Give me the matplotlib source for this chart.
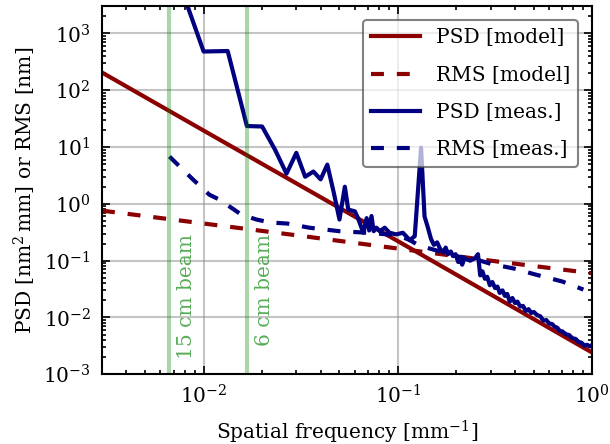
import matplotlib
matplotlib.use("Agg")
import matplotlib.pyplot as plt


# model curves (straight lines in log-log, read at a few frequencies)
f_model = [0.003, 0.01, 0.1, 1.0]
psd_model = [205, 19.5, 0.22, 0.0024]
f_rms_model = [0.003, 0.03, 0.3, 1.0]
rms_model = [0.76, 0.28, 0.10, 0.06]

f_meas = [0.00667, 0.0100, 0.0133, 0.0167, 0.0200, 0.0233, 0.0267, 0.0300,
          0.0333, 0.0367, 0.0400, 0.0433, 0.0467, 0.0500, 0.0533, 0.0555,
          0.0600, 0.0623, 0.0663, 0.0690, 0.0711, 0.0731, 0.0750, 0.0775,
          0.0806, 0.0855, 0.0905, 0.0980, 0.1060, 0.1150, 0.1220, 0.1315,
          0.1370, 0.1420, 0.1480, 0.1530, 0.1590, 0.1650, 0.1710, 0.1760,
          0.1810, 0.1870, 0.1920, 0.1980, 0.2040, 0.2100, 0.2140, 0.2200,
          0.2350, 0.2490, 0.2580, 0.2650, 0.2720, 0.2800, 0.2880, 0.2970,
          0.3060, 0.3160, 0.3250, 0.3340, 0.3450, 0.3550, 0.3650, 0.3760,
          0.3880, 0.4000, 0.4120, 0.4250, 0.4400, 0.4550, 0.4700, 0.4850,
          0.5000, 0.5200, 0.5400, 0.5600, 0.5800, 0.6000, 0.6200, 0.6400,
          0.6600, 0.6800, 0.7000, 0.7300, 0.7600, 0.7900, 0.8200, 0.8500,
          0.8800, 0.9100, 0.9400, 0.9700, 1.0000]
psd_meas = [24000, 480, 490, 23.4, 23, 9.0, 3.4, 7.9,
            3.0, 3.7, 2.7, 4.9, 1.6, 0.53, 2.0, 0.79,
            0.74, 0.56, 0.31, 0.56, 0.34, 0.61, 0.33, 0.38,
            0.33, 0.38, 0.31, 0.29, 0.31, 0.23, 0.27, 9.8,
            0.60, 0.40, 0.24, 0.19, 0.21, 0.16, 0.14, 0.17,
            0.13, 0.145, 0.12, 0.13, 0.095, 0.10, 0.085, 0.11,
            0.10, 0.11, 0.13, 0.055, 0.065, 0.048, 0.052, 0.037,
            0.042, 0.033, 0.035, 0.027, 0.030, 0.024, 0.026, 0.019,
            0.022, 0.018, 0.019, 0.0156, 0.016, 0.013, 0.014, 0.012,
            0.0125, 0.011, 0.0105, 0.0088, 0.009, 0.0078, 0.0077, 0.0069,
            0.0066, 0.0058, 0.0057, 0.0051, 0.0049, 0.0043, 0.0042, 0.0037,
            0.0036, 0.0032, 0.0033, 0.0031, 0.0033]

# measured RMS
f_rms_meas = [0.00667, 0.0088, 0.0107, 0.0121, 0.0156, 0.0187, 0.022, 0.027,
              0.035, 0.05, 0.07, 0.10, 0.115, 0.13, 0.14, 0.2, 0.265, 0.3,
              0.4, 0.5, 0.7, 0.9]
rms_meas = [6.8, 2.7, 1.45, 1.18, 0.65, 0.53, 0.47, 0.45,
            0.38, 0.33, 0.31, 0.28, 0.23, 0.18, 0.17, 0.12, 0.10, 0.088,
            0.072, 0.058, 0.043, 0.031]

# beam sizes [mm] -> marked at 1/size
beam_sizes = [150, 60]
beam_labels = ["15 cm beam", "6 cm beam"]


plt.rcParams['font.family'] = ['DejaVu Serif']
plt.rcParams['mathtext.fontset'] = 'dejavuserif'
matplotlib.rc('font', size=14.5)

fig = plt.figure(figsize=(6.1, 4.44), dpi=100)
fig.subplots_adjust(left=0.1672, right=0.971, bottom=0.157, top=0.9858)
ax = fig.add_subplot(1, 1, 1)

lw = 3
dash = (0, (3.1, 3.1))
ax.loglog(f_model, psd_model, color='#8b0000', lw=lw, label='PSD [model]')
ax.loglog(f_rms_model, rms_model, color='#8b0000', lw=lw, ls=dash,
          label='RMS [model]')
ax.loglog(f_meas, psd_meas, color='#000080', lw=lw, label='PSD [meas.]')
ax.loglog(f_rms_meas, rms_meas, color='#000080', lw=lw, ls=dash,
          label='RMS [meas.]')

for size, label in zip(beam_sizes, beam_labels):
    fb = 1.0 / size
    ax.axvline(fb, color='green', alpha=0.33, lw=3)
    ax.text(fb * 1.1, 0.3, label, rotation=90, ha='left', va='top',
            color='green', alpha=0.65)

ax.set_xlim(0.003, 1)
ax.set_ylim(1e-3, 3e3)
ax.grid(True, which='major', color='0.55', alpha=0.5, lw=1.5)
ax.tick_params(which='both', direction='in', top=True, right=True, width=1.2)
ax.tick_params(which='major', length=6)
ax.tick_params(which='minor', length=3)
ax.tick_params(axis='x', pad=7)
ax.tick_params(axis='y', pad=8)
for sp in ax.spines.values():
    sp.set_linewidth(1.5)

ax.set_xlabel(r'Spatial frequency $[\mathrm{mm}^{-1}]$', labelpad=8)
ax.set_ylabel(r'PSD $[\mathrm{nm}^{2}\,\mathrm{mm}]$ or RMS $[\mathrm{nm}]$')

leg = ax.legend(loc='upper right', framealpha=0.7, fancybox=True,
                handlelength=2.4, labelspacing=0.9, borderaxespad=0.7,
                fontsize=14.5)
leg.get_frame().set_edgecolor('0.3')
leg.get_frame().set_linewidth(1.5)

plt.savefig('out.png', dpi=100)
